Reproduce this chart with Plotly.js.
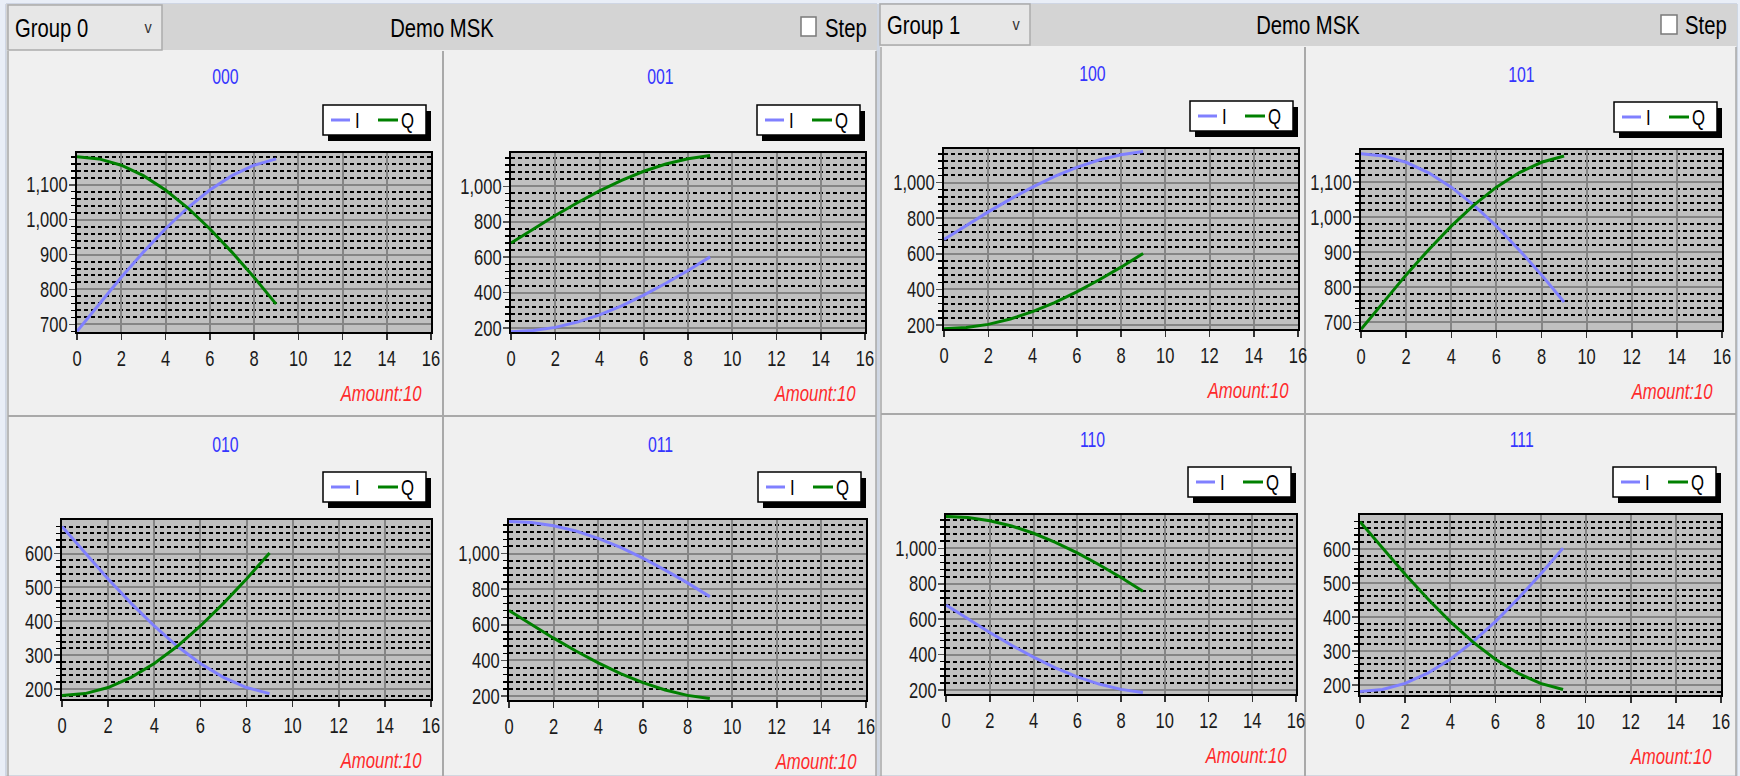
<!DOCTYPE html>
<html>
<head>
<meta charset="utf-8">
<script src="https://cdn.plot.ly/plotly-3.0.1.min.js"></script>
<style>
html,body{margin:0;padding:0;background:#e9eef7;overflow:hidden;}
#chart{width:1740px;height:776px;}
</style>
</head>
<body>
<div id="chart"></div>
<script>
// ---------------- data ----------------
const xSamples = [0, 1, 2, 3, 4, 5, 6, 7, 8, 9];

const i000 = [680, 758, 835, 907, 974, 1034, 1085, 1126, 1156, 1174];
const q000 = [1180, 1174, 1156, 1126, 1085, 1034, 974, 907, 835, 758];

const i001 = [180, 186, 204, 234, 275, 326, 386, 453, 525, 602];
const q001 = [680, 758, 835, 907, 974, 1034, 1085, 1126, 1156, 1174];

const i010 = [680, 602, 525, 453, 386, 326, 275, 234, 204, 186];
const q010 = [180, 186, 204, 234, 275, 326, 386, 453, 525, 602];

const i011 = [1180, 1174, 1156, 1126, 1085, 1034, 974, 907, 835, 758];
const q011 = [680, 602, 525, 453, 386, 326, 275, 234, 204, 186];

const i100 = [680, 758, 835, 907, 974, 1034, 1085, 1126, 1156, 1174];
const q100 = [180, 186, 204, 234, 275, 326, 386, 453, 525, 602];

const i101 = [1180, 1174, 1156, 1126, 1085, 1034, 974, 907, 835, 758];
const q101 = [680, 758, 835, 907, 974, 1034, 1085, 1126, 1156, 1174];

const i110 = [680, 602, 525, 453, 386, 326, 275, 234, 204, 186];
const q110 = [1180, 1174, 1156, 1126, 1085, 1034, 974, 907, 835, 758];

const i111 = [180, 186, 204, 234, 275, 326, 386, 453, 525, 602];
const q111 = [680, 602, 525, 453, 386, 326, 275, 234, 204, 186];

const panelNames = ['000', '001', '010', '011', '100', '101', '110', '111'];
const seriesNames = ['I', 'Q'];
const groupNames = ['Group 0', 'Group 1'];
const windowTitle = 'Demo MSK';
const stepLabel = 'Step';
const amountLabel = 'Amount:10';

// ---------------- layout / style ----------------
const W = 1740, H = 776;
const FONT = '"Liberation Sans", Arial, sans-serif';
const TICK_SQUEEZE = 0.75;   // the reference uses a condensed face
const COLOR_I = '#8080ff', COLOR_Q = '#008000';

const panels = [
  {name: panelNames[0], I: i000, Q: q000, plot: [77, 431, 153, 332], panel: [8, 443], yr: [678, 1191], dt: 100},
  {name: panelNames[1], I: i001, Q: q001, plot: [511, 865, 153, 332], panel: [443, 877], yr: [178, 1188], dt: 200},
  {name: panelNames[2], I: i010, Q: q010, plot: [62, 431, 520, 699], panel: [8, 443], yr: [170, 699.5], dt: 100},
  {name: panelNames[3], I: i011, Q: q011, plot: [509, 866, 520, 700], panel: [443, 877], yr: [178, 1188], dt: 200},
  {name: panelNames[4], I: i100, Q: q100, plot: [944, 1298, 149, 329], panel: [880, 1305], yr: [178, 1188], dt: 200},
  {name: panelNames[5], I: i101, Q: q101, plot: [1361, 1722, 150, 330], panel: [1305, 1737], yr: [678, 1191], dt: 100},
  {name: panelNames[6], I: i110, Q: q110, plot: [946, 1296, 515, 694], panel: [880, 1305], yr: [178, 1188], dt: 200},
  {name: panelNames[7], I: i111, Q: q111, plot: [1360, 1721, 515, 695], panel: [1305, 1737], yr: [170, 699.5], dt: 100}
];

const windows = [
  {group: groupNames[0], win: [6, 877], head: [4, 50], drop: [8, 162, 5, 50], textY: 28,
   check: [801, 816, 17, 36], stepX: 824, hsep: 416, vsep: 443},
  {group: groupNames[1], win: [879, 1737], head: [4, 46], drop: [880, 1030, 4, 45], textY: 25,
   check: [1661, 1677, 15, 34], stepX: 1684, hsep: 414, vsep: 1305}
];

const px = v => v / W;
const py = v => 1 - v / H;

function rect(x0, x1, y0, y1, fill, lineColor, lw, layer) {
  return {type: 'rect', xref: 'paper', yref: 'paper',
    x0: px(x0), x1: px(x1), y0: py(y1), y1: py(y0),
    fillcolor: fill, line: {color: lineColor || 'rgba(0,0,0,0)', width: lw || 0},
    layer: layer || 'below'};
}
function seg(x0, y0, x1, y1, color, w, layer) {
  return {type: 'line', xref: 'paper', yref: 'paper',
    x0: px(x0), x1: px(x1), y0: py(y0), y1: py(y1),
    line: {color: color, width: w}, layer: layer || 'below'};
}

const shapes = [];
const annotations = [];
const squeezes = [];
function text(t, x, y, size, color, xanchor, squeeze) {
  const a = xanchor || 'center';
  annotations.push({text: t, xref: 'paper', yref: 'paper', x: px(x), y: py(y),
    xanchor: a, align: a, yanchor: 'middle', showarrow: false, borderpad: 0,
    font: {family: FONT, size: size, color: color}});
  squeezes.push(squeeze || 0.76);
}

// windows and headers
windows.forEach(w => {
  shapes.push(rect(w.win[0], w.win[1], w.head[0], H, '#f0f0f0', '#b4bfd0', 1));
  shapes.push(rect(w.win[0], w.win[1], w.head[0], w.head[1], '#d4d4d4'));
  shapes.push(rect(w.drop[0], w.drop[1], w.drop[2], w.drop[3], '#e7e7e7', '#acacac', 1.5));
  shapes.push(rect(w.check[0], w.check[1], w.check[2], w.check[3], '#ffffff', '#7a7a7a', 1.5));
  // panel separators
  shapes.push(seg(w.vsep, w.head[1] + 1, w.vsep, H, '#a9a9a9', 2));
  shapes.push(seg(w.win[0] + 2, w.hsep, w.win[1] - 1, w.hsep, '#a9a9a9', 2));
  shapes.push(seg(w.win[0] + 2, w.head[1] + 1, w.win[0] + 2, H, '#a9a9a9', 1.5));
  shapes.push(seg(w.win[1] - 1, w.head[1] + 1, w.win[1] - 1, H, '#a9a9a9', 1.5));

  text(w.group, w.drop[0] + 6, w.textY, 25, '#000', 'left', 0.81);
  text('v', w.drop[1] - 14, w.textY, 16, '#333', 'center', 0.9);
  text(windowTitle, (w.win[0] + w.win[1]) / 2, w.textY, 25, '#000', 'center', 0.81);
  text(stepLabel, w.stepX, w.textY, 25, '#000', 'left', 0.81);
});

const data = [];
const layout = {
  width: W, height: H,
  margin: {l: 0, r: 0, t: 0, b: 0, pad: 0},
  paper_bgcolor: '#e9eef7',
  plot_bgcolor: 'rgba(0,0,0,0)',
  showlegend: false,
  font: {family: FONT},
  shapes: shapes,
  annotations: annotations
};

panels.forEach((p, k) => {
  const n = k + 1;
  const sfx = n === 1 ? '' : String(n);
  const xa = 'x' + sfx, ya = 'y' + sfx;
  const [l, r, t, b] = p.plot;

  // plot area background
  shapes.push(rect(l, r, t, b, '#c0c0c0'));

  data.push({x: xSamples, y: p.I, type: 'scatter', mode: 'lines', name: seriesNames[0],
    xaxis: xa, yaxis: ya, line: {color: COLOR_I, width: 3}, hoverinfo: 'x+y'});
  data.push({x: xSamples, y: p.Q, type: 'scatter', mode: 'lines', name: seriesNames[1],
    xaxis: xa, yaxis: ya, line: {color: COLOR_Q, width: 3}, hoverinfo: 'x+y'});

  layout['xaxis' + sfx] = {
    domain: [px(l), px(r)], anchor: ya,
    range: [0, 16], tick0: 0, dtick: 2, fixedrange: true,
    showgrid: true, gridcolor: '#858585', gridwidth: 2, zeroline: false,
    showline: true, linecolor: '#000', linewidth: 2, mirror: true,
    ticks: 'outside', ticklen: 6, tickwidth: 1.5, tickcolor: '#333',
    tickfont: {family: FONT, size: 22, color: '#1a1a1a'}
  };
  layout['yaxis' + sfx] = {
    domain: [py(b), py(t)], anchor: xa,
    range: p.yr, tick0: 0, dtick: p.dt, tickformat: ',d', fixedrange: true,
    showgrid: true, gridcolor: '#858585', gridwidth: 2, zeroline: false,
    showline: true, linecolor: '#000', linewidth: 2, mirror: true,
    ticks: 'outside', ticklen: 6, tickwidth: 1.5, tickcolor: '#555',
    ticklabelstandoff: -3,
    tickfont: {family: FONT, size: 22, color: '#1a1a1a'},
    minor: {dtick: p.dt / 5, tick0: 0, ticks: 'outside', ticklen: 4, tickwidth: 1.5, tickcolor: '#000',
      showgrid: true, gridcolor: '#000', gridwidth: 2, griddash: '4px,3px'}
  };

  // title
  text(p.name, (p.panel[0] + p.panel[1]) / 2, t - 76, 22, '#3535ff', 'center', 0.72);
  // amount label
  text('<i>' + amountLabel + '</i>', r - 8, b + 61, 22, '#ff2a2a', 'right', 0.76);

  // legend box with shadow
  const lr = r - 5, lb = t - 18, ll = lr - 103, lt = lb - 30;
  shapes.push(rect(ll + 5, lr + 5, lt + 6, lb + 6, '#000000'));
  shapes.push(rect(ll, lr, lt, lb, '#ffffff', '#000000', 1.5));
  const cy = (lt + lb) / 2;
  shapes.push(seg(ll + 8, cy, ll + 27, cy, COLOR_I, 3));
  shapes.push(seg(ll + 55, cy, ll + 75, cy, COLOR_Q, 3));
  text(seriesNames[0], ll + 31, cy, 22, '#000', 'left', 0.76);
  text(seriesNames[1], ll + 77, cy, 22, '#000', 'left', 0.76);
});

// Narrow the glyphs while keeping each label's anchor point where Plotly put it.
function squeezeEl(el, f) {
  const b0 = el.getBBox();
  if (!(b0.width > 0)) return;
  const len = el.getComputedTextLength();
  el.setAttribute('textLength', (len * f).toFixed(2));
  el.setAttribute('lengthAdjust', 'spacingAndGlyphs');
  const b1 = el.getBBox();
  const anchor = el.getAttribute('text-anchor') || getComputedStyle(el).textAnchor || 'start';
  let dx;
  if (anchor === 'end') dx = (b0.x + b0.width) - (b1.x + b1.width);
  else if (anchor === 'middle') dx = (b0.x + b0.width / 2) - (b1.x + b1.width / 2);
  else dx = b0.x - b1.x;
  if (Math.abs(dx) > 0.05) {
    const tr = el.getAttribute('transform') || '';
    el.setAttribute('transform', (tr + ' translate(' + dx.toFixed(2) + ',0)').trim());
  }
}
function squeezeText(gd) {
  gd.querySelectorAll('svg text').forEach(el => {
    const g = el.closest('g.annotation');
    let f = TICK_SQUEEZE;
    if (g) {
      const idx = +g.getAttribute('data-index');
      if (squeezes[idx]) f = squeezes[idx];
    }
    squeezeEl(el, f);
  });
}

Plotly.newPlot('chart', data, layout, {displayModeBar: false, staticPlot: true})
  .then(squeezeText);
</script>
</body>
</html>
